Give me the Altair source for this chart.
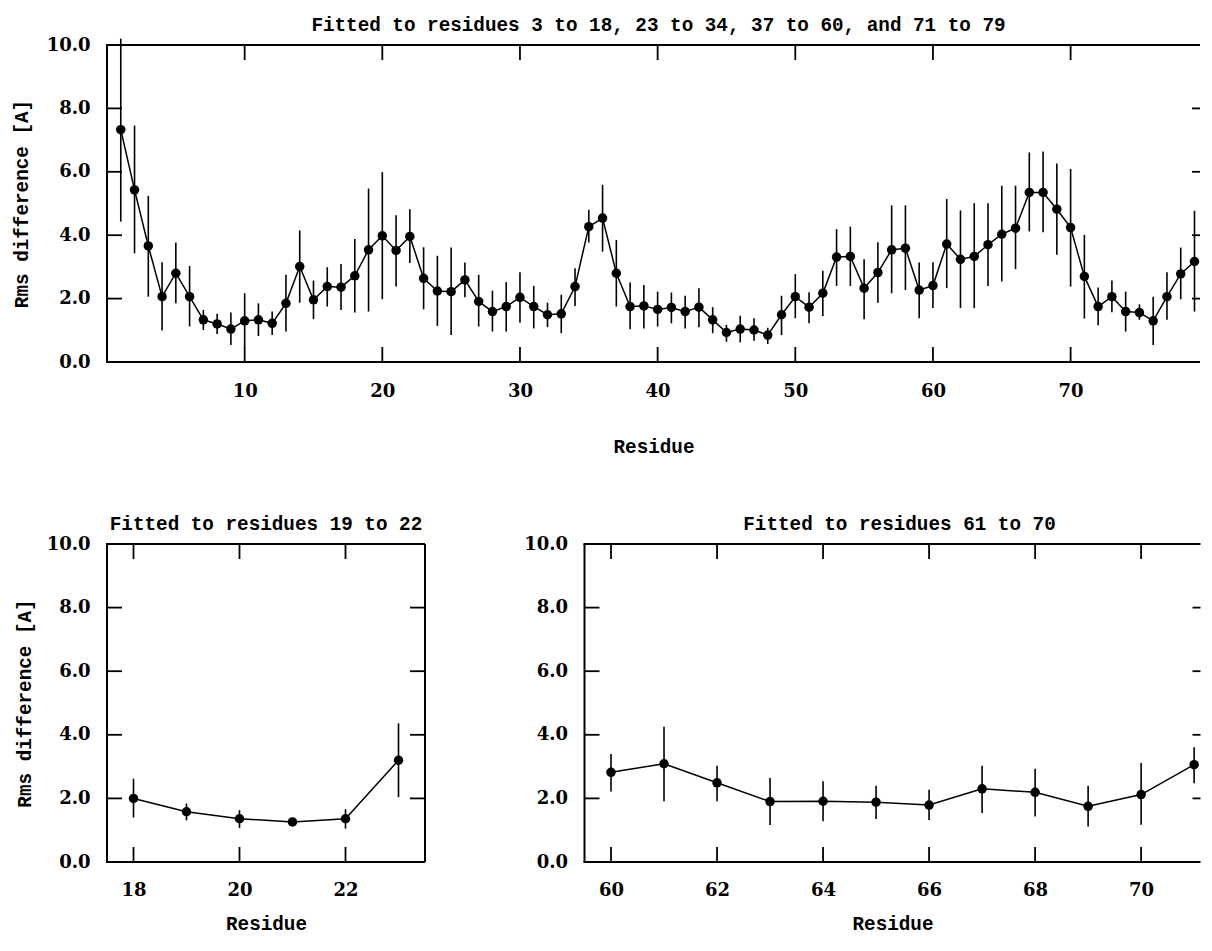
import altair as alt
import pandas as pd

FONT = "DejaVu Serif"
TFONT = "Liberation Mono"
INK = "black"

# ---------------- data ----------------
top_res = list(range(1, 80))
top_rms = [7.33, 5.43, 3.66, 2.06, 2.80, 2.06, 1.33, 1.20, 1.04, 1.30,
           1.33, 1.22, 1.85, 3.01, 1.96, 2.38, 2.36, 2.72, 3.54, 3.98,
           3.52, 3.96, 2.64, 2.24, 2.22, 2.59, 1.91, 1.59, 1.75, 2.04,
           1.75, 1.49, 1.52, 2.38, 4.27, 4.54, 2.80, 1.75, 1.77, 1.66,
           1.72, 1.59, 1.73, 1.33, 0.93, 1.04, 1.01, 0.85, 1.49, 2.06,
           1.73, 2.17, 3.31, 3.33, 2.33, 2.82, 3.54, 3.59, 2.27, 2.41,
           3.72, 3.24, 3.33, 3.70, 4.03, 4.22, 5.35, 5.35, 4.82, 4.24,
           2.70, 1.75, 2.06, 1.59, 1.56, 1.30, 2.06, 2.78, 3.17]
top_hi = [10.20, 7.46, 5.24, 3.15, 3.77, 3.03, 1.64, 1.52, 1.56, 2.17,
          1.85, 1.59, 2.75, 4.15, 2.57, 2.99, 3.09, 3.88, 5.47, 5.99,
          4.63, 4.82, 3.62, 3.35, 3.61, 3.14, 2.75, 2.25, 2.52, 2.83,
          2.40, 1.87, 2.12, 2.96, 4.80, 5.59, 3.85, 2.51, 2.43, 2.22,
          2.19, 2.09, 2.33, 1.73, 1.17, 1.46, 1.38, 1.08, 2.09, 2.77,
          2.20, 2.88, 4.19, 4.27, 3.24, 3.78, 4.94, 4.94, 3.14, 3.15,
          5.14, 4.78, 5.01, 5.01, 5.56, 5.56, 6.61, 6.64, 6.26, 6.09,
          4.01, 2.35, 2.57, 2.22, 1.82, 2.06, 2.83, 3.61, 4.77]
top_lo = [4.43, 3.43, 2.06, 0.99, 1.85, 1.12, 1.01, 0.88, 0.54, 0.45,
          0.82, 0.85, 0.96, 1.87, 1.35, 1.75, 1.64, 1.56, 1.59, 1.98,
          2.38, 3.12, 1.66, 1.14, 0.85, 2.04, 1.12, 0.96, 0.96, 1.24,
          1.06, 1.10, 0.91, 1.77, 3.77, 3.48, 1.75, 1.03, 1.06, 1.12,
          1.22, 1.06, 1.10, 0.91, 0.64, 0.62, 0.67, 0.57, 0.85, 1.38,
          1.22, 1.45, 2.40, 2.40, 1.35, 1.87, 2.17, 2.27, 1.38, 1.70,
          2.33, 1.70, 1.70, 2.40, 2.54, 2.93, 4.12, 4.09, 3.38, 2.38,
          1.37, 1.16, 1.57, 0.96, 1.33, 0.54, 1.33, 1.98, 1.59]

left_res = [18, 19, 20, 21, 22, 23]
left_rms = [2.00, 1.58, 1.36, 1.26, 1.36, 3.20]
left_hi = [2.62, 1.84, 1.63, 1.34, 1.66, 4.36]
left_lo = [1.40, 1.31, 1.07, 1.18, 1.05, 2.04]

right_res = list(range(60, 72))
right_rms = [2.82, 3.09, 2.49, 1.90, 1.91, 1.88, 1.79, 2.30, 2.19, 1.75, 2.12, 3.06]
right_hi = [3.40, 4.25, 3.03, 2.64, 2.54, 2.40, 2.27, 3.03, 2.93, 2.40, 3.11, 3.61]
right_lo = [2.22, 1.91, 1.91, 1.16, 1.28, 1.35, 1.32, 1.54, 1.43, 1.12, 1.17, 2.48]

top_title = "Fitted to residues 3 to 18, 23 to 34, 37 to 60, and 71 to 79"
left_title = "Fitted to residues 19 to 22"
right_title = "Fitted to residues 61 to 70"
x_title = "Residue"
y_title = "Rms difference [A]"

y_labels = [0, 2, 4, 6, 8, 10]
y_ticks = [2, 4, 6, 8]
top_xticks = [10, 20, 30, 40, 50, 60, 70]
left_xticks = [18, 20, 22]
right_xticks = [60, 62, 64, 66, 68, 70]

TICK = 15


def panel(res, rms, lo, hi, xdomain, xticks, title, width, height,
          ytitle, label_pad_x, title_pad_x, title_pad_y,
          right_frame, right_tick, title_dx):
    df = pd.DataFrame({"res": res, "rms": rms, "lo": lo, "hi": hi})
    xscale = alt.Scale(domain=xdomain, nice=False, zero=False)
    yscale = alt.Scale(domain=[0, 10], nice=False)
    xaxis = alt.Axis(values=xticks, format="d", labelPadding=label_pad_x,
                     titlePadding=title_pad_x, title=x_title)
    if ytitle:
        yaxis = alt.Axis(values=y_labels, format=".1f", labelPadding=17,
                         titlePadding=title_pad_y, title=ytitle)
    else:
        yaxis = alt.Axis(values=y_labels, format=".1f", labelPadding=17,
                         title=None)

    def X(f):
        return alt.X(f, type="quantitative", scale=xscale, axis=xaxis)

    def Y(f):
        return alt.Y(f, type="quantitative", scale=yscale, axis=yaxis)

    base = alt.Chart(df)
    bars = base.mark_rule(color=INK, strokeWidth=1.6).encode(
        x=X("res"), y=Y("lo"), y2="hi:Q")
    line = base.mark_line(color=INK, strokeWidth=1.5).encode(
        x=X("res"), y=Y("rms"))
    pts = base.mark_circle(color=INK, opacity=1, size=90).encode(
        x=X("res"), y=Y("rms"))

    xt = pd.DataFrame({"res": xticks})
    yt = pd.DataFrame({"rms": y_ticks})
    tick_style = dict(color=INK, strokeWidth=1.8)
    tb = alt.Chart(xt).mark_rule(**tick_style).encode(
        x=X("res"), y=alt.value(height), y2=alt.value(height - TICK))
    tt = alt.Chart(xt).mark_rule(**tick_style).encode(
        x=X("res"), y=alt.value(0), y2=alt.value(TICK))
    tl = alt.Chart(yt).mark_rule(**tick_style).encode(
        y=Y("rms"), x=alt.value(0), x2=alt.value(TICK))
    tr = alt.Chart(yt).mark_rule(**tick_style).encode(
        y=Y("rms"), x=alt.value(width), x2=alt.value(width - right_tick))

    one = pd.DataFrame({"k": [0]})
    fs = dict(color=INK, strokeWidth=2)
    f_left = alt.Chart(one).mark_rule(**fs).encode(
        x=alt.value(0), y=alt.value(0), y2=alt.value(height))
    f_top = alt.Chart(one).mark_rule(**fs).encode(
        y=alt.value(0), x=alt.value(-1), x2=alt.value(width))
    f_bot = alt.Chart(one).mark_rule(**fs).encode(
        y=alt.value(height), x=alt.value(-1), x2=alt.value(width))
    layers = [bars, line, pts, tb, tt, tl, tr, f_left, f_top, f_bot]
    if right_frame:
        f_right = alt.Chart(one).mark_rule(**fs).encode(
            x=alt.value(width), y=alt.value(0), y2=alt.value(height))
        layers.append(f_right)

    return alt.layer(*layers).properties(
        width=width, height=height,
        title=alt.TitleParams(title, dx=title_dx))


top = panel(top_res, top_rms, top_lo, top_hi, [0, 79.4], top_xticks,
            top_title, 1093, 317, y_title, 20, 37, 15, False, 8, 5)
left = panel(left_res, left_rms, left_lo, left_hi, [17.5, 23.5],
             left_xticks, left_title, 318, 318, y_title, 19, 15, 12,
             True, TICK, 0)
right = panel(right_res, right_rms, right_lo, right_hi, [59.5, 71.12],
              right_xticks, right_title, 616, 318, None, 19, 15, 12,
              False, 8, 7)

chart = alt.vconcat(
    top, alt.hconcat(left, right, spacing=97.5), spacing=57
).properties(
    padding={"left": 4, "top": 7, "right": 0, "bottom": 0},
    background="white",
).configure_view(
    stroke=None
).configure_axis(
    domain=False, ticks=False, tickSize=0, grid=False,
    labelFont=FONT, labelFontSize=18, labelFontWeight="bold", labelColor=INK,
    titleFont=TFONT, titleFontWeight="bold", titleColor=INK,
    titleFontSize=19.3,
).configure_title(
    font=TFONT, fontSize=19.3, fontWeight="bold", color=INK, offset=1,
    anchor="middle"
)

chart.save("out.html", embed_options={"renderer": "svg", "actions": False})
